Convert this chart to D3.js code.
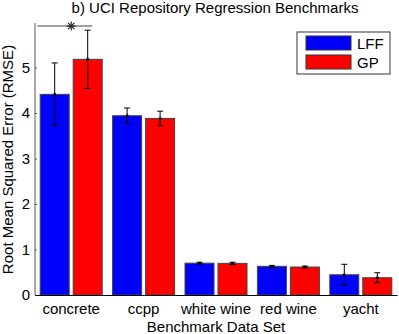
<!DOCTYPE html>
<html>
<head>
<meta charset="utf-8">
<script src="https://cdn.jsdelivr.net/npm/d3@7"></script>
<style>
  body { margin: 0; background: #fff; }
  svg { display: block; font-family: "Liberation Sans", Arial, Helvetica, sans-serif; }
</style>
</head>
<body>
<svg id="canvas" width="399" height="334"></svg>
<script>
var categories = ["concrete", "ccpp", "white wine", "red wine", "yacht"];
var series = ["LFF", "GP"];
var lffMean = [4.41, 3.94, 0.70, 0.63, 0.445];
var lffErr = [0.69, 0.17, 0.02, 0.02, 0.23];
var gpMean = [5.18, 3.88, 0.695, 0.615, 0.38];
var gpErr = [0.64, 0.16, 0.025, 0.02, 0.11];
var yTicks = [0, 1, 2, 3, 4, 5];
var colors = {LFF: "#0000ff", GP: "#ff0000"};

var rows = [];
categories.forEach(function (c, i) {
	rows.push({cat: c, s: "LFF", m: lffMean[i], e: lffErr[i]});
	rows.push({cat: c, s: "GP", m: gpMean[i], e: gpErr[i]});
});

var svg = d3.select("#canvas");

var xScale = d3.scaleBand().domain(categories).range([35, 397]);
var half = xScale.bandwidth() / 2;
var xInner = d3.scaleBand().domain(series)
	.range([half - 31, half + 31])
	.paddingInner(2 - 62 / 33);
var yScale = d3.scaleLinear().domain([0, 6]).range([295, 22]);

// bars
svg.selectAll("rect.bar").data(rows).enter()
	.append("rect")
	.attr("class", "bar")
	.attr("x", d => xScale(d.cat) + xInner(d.s))
	.attr("y", d => yScale(d.m))
	.attr("width", xInner.bandwidth())
	.attr("height", d => yScale(0) - yScale(d.m))
	.attr("fill", d => colors[d.s])
	.attr("stroke", "#444")
	.attr("stroke-width", 1);

// error bars
var cx = d => xScale(d.cat) + xInner(d.s) + xInner.bandwidth() / 2;
var eb = svg.selectAll("g.err").data(rows).enter().append("g").attr("class", "err")
	.attr("stroke", "#000").attr("stroke-width", 1);
eb.append("line")
	.attr("x1", cx).attr("x2", cx)
	.attr("y1", d => yScale(d.m + d.e)).attr("y2", d => yScale(d.m - d.e));
eb.append("line")
	.attr("x1", d => cx(d) - 3).attr("x2", d => cx(d) + 3)
	.attr("y1", d => yScale(d.m + d.e)).attr("y2", d => yScale(d.m + d.e));
eb.append("line")
	.attr("x1", d => cx(d) - 3).attr("x2", d => cx(d) + 3)
	.attr("y1", d => yScale(d.m - d.e)).attr("y2", d => yScale(d.m - d.e));
eb.append("circle")
	.attr("cx", cx).attr("cy", d => yScale(d.m)).attr("r", 1.5)
	.attr("fill", "#000").attr("stroke", "none");

// significance marker on concrete
var sigY = 26;
svg.append("line")
	.attr("x1", xScale("concrete") + xInner("LFF") - 3)
	.attr("x2", xScale("concrete") + xInner("GP") + xInner.bandwidth() - 10)
	.attr("y1", sigY).attr("y2", sigY)
	.attr("stroke", "#444").attr("stroke-width", 1);
// 8-arm asterisk marker, like matlab's '*'
var r = 4.5, arms = [0, 45, 90, 135];
svg.append("g")
	.attr("transform", "translate(" + (xScale("concrete") + half) + "," + sigY + ")")
	.selectAll("line").data(arms).enter().append("line")
	.attr("x1", a => -r * Math.cos(a * Math.PI / 180))
	.attr("y1", a => -r * Math.sin(a * Math.PI / 180))
	.attr("x2", a => r * Math.cos(a * Math.PI / 180))
	.attr("y2", a => r * Math.sin(a * Math.PI / 180))
	.attr("stroke", "#222").attr("stroke-width", 1.2);

// axes
var yAxis = d3.axisLeft(yScale).tickValues(yTicks).tickSize(-2).tickPadding(5)
	.tickFormat(d3.format("d"));
var yg = svg.append("g")
	.attr("transform", "translate(35,0)")
	.call(yAxis);
yg.select(".domain").attr("stroke", "#555").attr("d", "M0," + yScale(0) + "V23");
yg.selectAll(".tick line").attr("stroke", "#555");
yg.selectAll("text").attr("font-size", 15).attr("font-family", null).attr("fill", "#000");

var xAxis = d3.axisBottom(xScale).tickSize(0).tickPadding(8);
var xg = svg.append("g")
	.attr("transform", "translate(0," + yScale(0) + ")")
	.call(xAxis);
xg.select(".domain").attr("stroke", "#000");
xg.selectAll("text").attr("font-size", 15).attr("font-family", null).attr("fill", "#000");

// title and labels
svg.append("text")
	.attr("x", 215).attr("y", 12.5)
	.attr("text-anchor", "middle")
	.attr("font-size", 15)
	.text("b) UCI Repository Regression Benchmarks");

svg.append("text")
	.attr("x", 216).attr("y", 331.5)
	.attr("text-anchor", "middle")
	.attr("font-size", 15)
	.text("Benchmark Data Set");

svg.append("text")
	.attr("transform", "translate(13,159.5) rotate(-90)")
	.attr("text-anchor", "middle")
	.attr("font-size", 15)
	.text("Root Mean Squared Error (RMSE)");

// legend
var legend = svg.append("g").attr("transform", "translate(297,32)");
legend.append("rect")
	.attr("width", 93).attr("height", 42)
	.attr("fill", "#fff").attr("stroke", "#333");
var li = legend.selectAll("g.item").data(series).enter().append("g")
	.attr("transform", (d, i) => "translate(9," + (4 + i * 19) + ")");
li.append("rect")
	.attr("width", 45).attr("height", 14)
	.attr("fill", d => colors[d]).attr("stroke", "#333");
li.append("text")
	.attr("x", 51).attr("y", 12.5)
	.attr("font-size", 15)
	.text(d => d);
</script>
</body>
</html>
